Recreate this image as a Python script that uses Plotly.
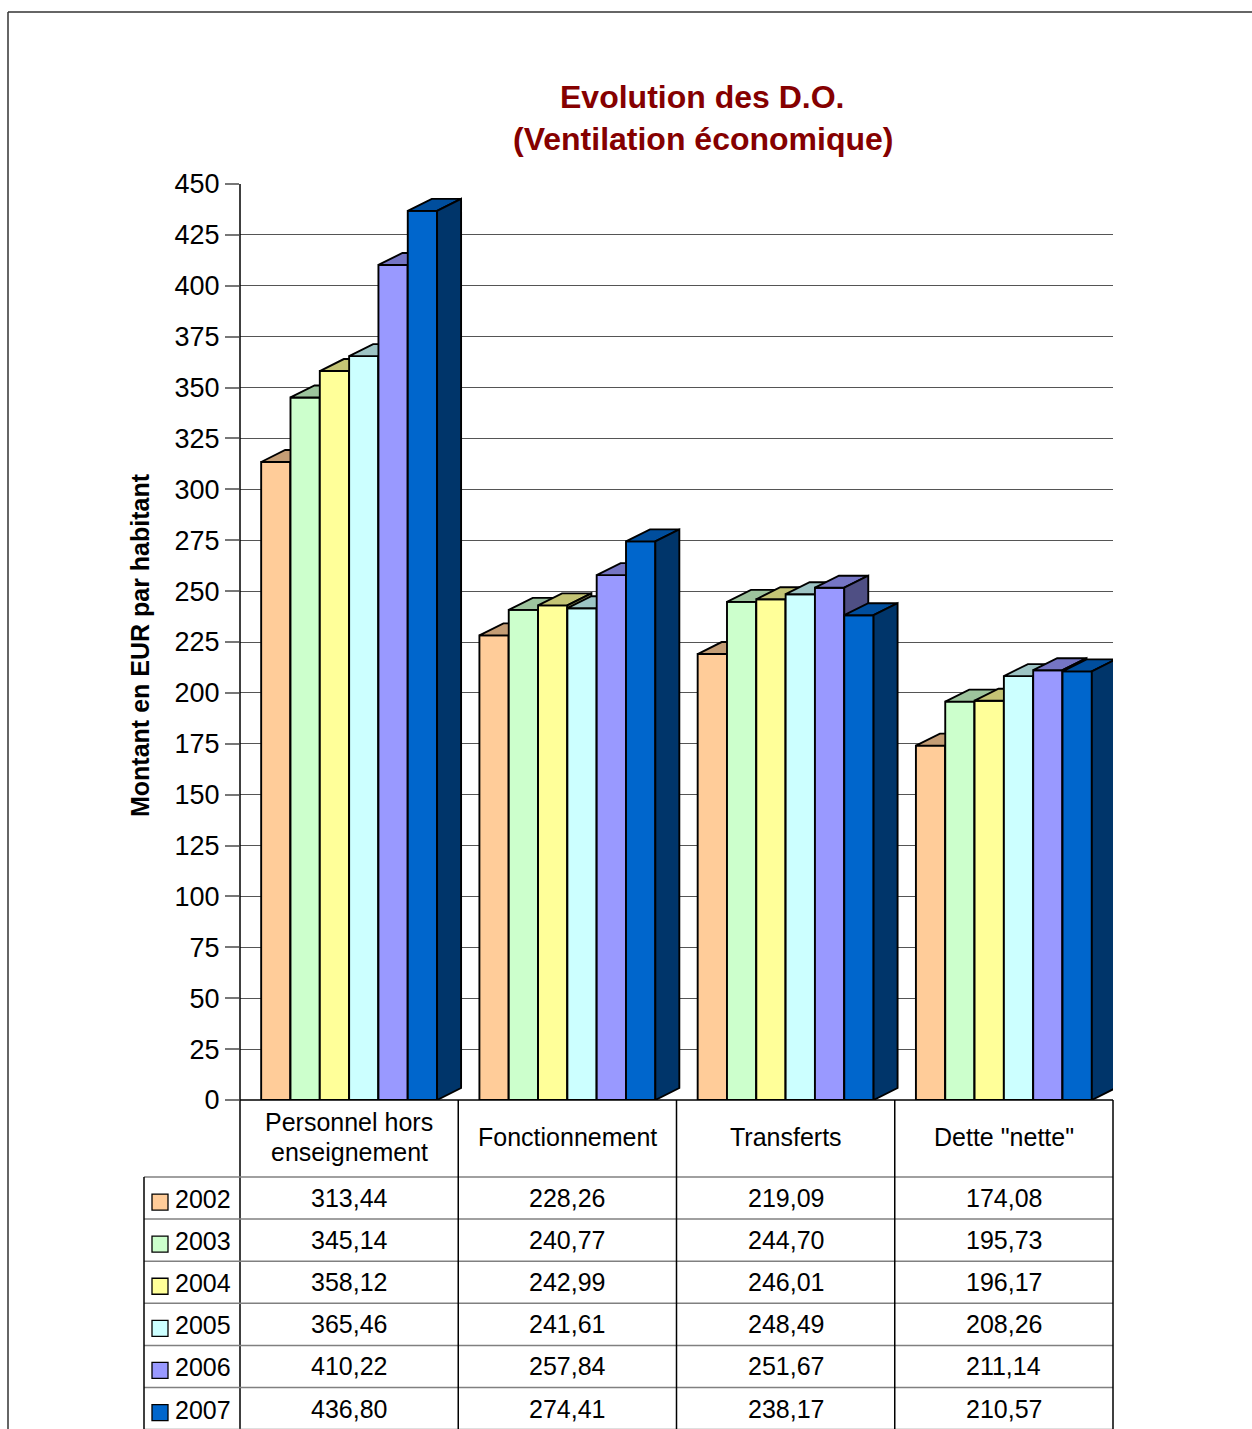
import plotly.graph_objects as go

# ---------------- data ----------------
categories = ["Personnel hors<br>enseignement", "Fonctionnement", "Transferts", 'Dette "nette"']
years = ["2002", "2003", "2004", "2005", "2006", "2007"]
v2002 = [313.44, 228.26, 219.09, 174.08]
v2003 = [345.14, 240.77, 244.70, 195.73]
v2004 = [358.12, 242.99, 246.01, 196.17]
v2005 = [365.46, 241.61, 248.49, 208.26]
v2006 = [410.22, 257.84, 251.67, 211.14]
v2007 = [436.80, 274.41, 238.17, 210.57]
series = [v2002, v2003, v2004, v2005, v2006, v2007]
front_colors = ["#FFCC99", "#CCFFCC", "#FFFF99", "#CCFFFF", "#9999FF", "#0066CC"]
y_ticks = list(range(0, 451, 25))

# ---------------- geometry helpers ----------------
W, H = 1252, 1429
FONT = "Liberation Sans, Arial, sans-serif"


def px(x):
    return x / W


def py(y):
    return 1 - y / H


def shade(hexcol, f):
    hexcol = hexcol.lstrip("#")
    r, g, b = (int(hexcol[i:i + 2], 16) for i in (0, 2, 4))
    return "#%02x%02x%02x" % (int(r * f), int(g * f), int(b * f))


X0, X1 = 240, 1113      # plot area in pixels
Y0, Y1 = 184, 1100
YMAX = 450
n_cat = len(categories)
n_ser = len(series)
group_w = 0.806
bw = group_w / n_ser
dx = 24 / ((X1 - X0) / n_cat)           # depth offset in category units
dy = 12 / ((Y1 - Y0) / YMAX)            # depth offset in value units

fig = go.Figure()


def poly(xs, ys, color):
    fig.add_trace(go.Scatter(
        x=xs, y=ys, mode="lines", fill="toself", fillcolor=color,
        line=dict(color="black", width=1.9), hoverinfo="skip", showlegend=False))


for c in range(n_cat):
    for s in range(n_ser):
        h = series[s][c]
        xa = c - group_w / 2 + s * bw
        xb = xa + bw
        col = front_colors[s]
        poly([xa, xb, xb, xa, xa], [0, 0, h, h, 0], col)
        poly([xa, xb, xb + dx, xa + dx, xa], [h, h, h + dy, h + dy, h], shade(col, 0.77))
        poly([xb, xb + dx, xb + dx, xb, xb], [0, dy, h + dy, h, 0], shade(col, 0.52))

fig.update_xaxes(range=[-0.5, n_cat - 0.5], domain=[px(X0), px(X1)],
                 showticklabels=False, showgrid=False, zeroline=False,
                 showline=False, fixedrange=True, automargin=False)
fig.update_yaxes(range=[0, YMAX], domain=[py(Y1), py(Y0)],
                 tickvals=y_ticks, ticktext=[str(t) for t in y_ticks],
                 tickfont=dict(family=FONT, size=27, color="black"),
                 ticks="outside", ticklen=14, tickcolor="#777777", tickwidth=1.5,
                 showgrid=True, gridcolor="#555555", gridwidth=1.3,
                 zeroline=False, showline=False, fixedrange=True, automargin=False)

shapes = []
annotations = []

# page frame
shapes.append(dict(type="line", xref="paper", yref="paper", x0=px(8), x1=px(W), y0=py(12), y1=py(12),
                   line=dict(color="#333333", width=1.5)))
shapes.append(dict(type="line", xref="paper", yref="paper", x0=px(8), x1=px(8), y0=py(12), y1=py(H),
                   line=dict(color="#333333", width=1.5)))

# y axis line (continues through the table)
shapes.append(dict(type="line", xref="paper", yref="paper", x0=px(X0), x1=px(X0), y0=py(Y0), y1=py(H),
                   line=dict(color="black", width=1.5)))
# baseline
shapes.append(dict(type="line", xref="paper", yref="paper", x0=px(X0), x1=px(X1), y0=py(Y1), y1=py(Y1),
                   line=dict(color="black", width=1.5)))

# table
col_edges = [X0 + i * (X1 - X0) / n_cat for i in range(n_cat + 1)]
row_top = 1177
row_h = 42.1
row_lines = [row_top + i * row_h for i in range(n_ser + 1)]
for yl in row_lines:
    shapes.append(dict(type="line", xref="paper", yref="paper", x0=px(144), x1=px(X1), y0=py(yl), y1=py(yl),
                       line=dict(color="#808080", width=1.5)))
for xe in col_edges[1:]:
    shapes.append(dict(type="line", xref="paper", yref="paper", x0=px(xe), x1=px(xe), y0=py(Y1), y1=py(H),
                       line=dict(color="black", width=1.5)))
shapes.append(dict(type="line", xref="paper", yref="paper", x0=px(144), x1=px(144), y0=py(row_top), y1=py(H),
                   line=dict(color="black", width=1.5)))

# header labels
for c, name in enumerate(categories):
    cx = (col_edges[c] + col_edges[c + 1]) / 2
    lines = name.split("<br>")
    n = len(lines)
    for k, ln in enumerate(lines):
        cy = 1137 + (k - (n - 1) / 2) * 30
        annotations.append(dict(xref="paper", yref="paper", x=px(cx), y=py(cy), text=ln,
                                showarrow=False, xanchor="center", yanchor="middle",
                                font=dict(family=FONT, size=25, color="black")))

# rows
for s in range(n_ser):
    cy = row_top + (s + 0.5) * row_h
    shapes.append(dict(type="rect", xref="paper", yref="paper", x0=px(152), x1=px(168),
                       y0=py(cy - 4), y1=py(cy + 12), fillcolor=front_colors[s],
                       line=dict(color="black", width=1.3)))
    annotations.append(dict(xref="paper", yref="paper", x=px(173), y=py(cy + 1), text=years[s],
                            showarrow=False, xanchor="left", yanchor="middle",
                            font=dict(family=FONT, size=25, color="black")))
    for c in range(n_cat):
        cx = (col_edges[c] + col_edges[c + 1]) / 2
        txt = f"{series[s][c]:.2f}".replace(".", ",")
        annotations.append(dict(xref="paper", yref="paper", x=px(cx), y=py(cy), text=txt,
                                showarrow=False, xanchor="center", yanchor="middle",
                                font=dict(family=FONT, size=25, color="black")))

# title
annotations.append(dict(xref="paper", yref="paper", x=px(702), y=py(97), text="<b>Evolution des D.O.</b>",
                        showarrow=False, xanchor="center", yanchor="middle",
                        font=dict(family=FONT, size=32, color="#850000")))
annotations.append(dict(xref="paper", yref="paper", x=px(703), y=py(139), text="<b>(Ventilation économique)</b>",
                        showarrow=False, xanchor="center", yanchor="middle",
                        font=dict(family=FONT, size=32, color="#850000")))
# y axis title
annotations.append(dict(xref="paper", yref="paper", x=px(140), y=py(645), text="<b>Montant en EUR par habitant</b>",
                        showarrow=False, textangle=-90, xanchor="center", yanchor="middle",
                        font=dict(family=FONT, size=25, color="black")))

fig.update_layout(width=W, height=H, margin=dict(l=0, r=0, t=0, b=0, autoexpand=False),
                  paper_bgcolor="white", plot_bgcolor="white",
                  shapes=shapes, annotations=annotations, hovermode=False, showlegend=False)

fig.write_html("out.html")
